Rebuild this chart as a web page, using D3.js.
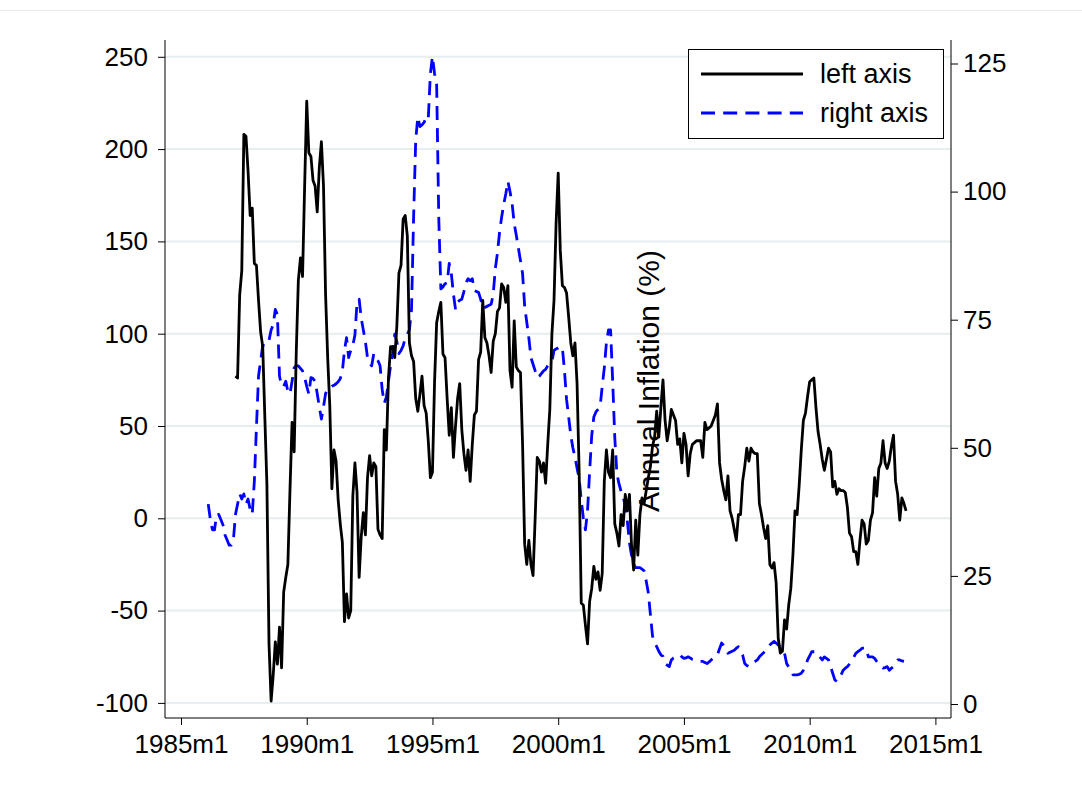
<!DOCTYPE html>
<html><head><meta charset="utf-8">
<script src="https://cdn.jsdelivr.net/npm/d3@7"></script>
<style>body{margin:0;background:#fff}svg{display:block}</style>
</head><body><svg id="c" width="1082" height="799"></svg>
<script>
// ---------- data ----------
const xTickLabels = ["1985m1","1990m1","1995m1","2000m1","2005m1","2010m1","2015m1"];
const leftTicks = [-100,-50,0,50,100,150,200,250];
const rightTicks = [0,25,50,75,100,125];
const seriesNames = ["left axis","right axis"];
const axisTitle = "Annual Inflation (%)";

// left-axis series, monthly from 1987m3
const leftStart = "1987m3";
const leftValues = [
77,76,121,134,208,207,188,164,168,138,
137,118,101,93,55,18,-68,-99,-85,-67,-79,-59,
-81,-40,-32,-25,15,52,36,90,129,141,131,180,
226,198,196,183,180,166,190,204,180,121,87,61,
16,37,31,10,-3,-13,-56,-41,-54,-50,12,30,
14,-32,-10,3,-9,22,34,23,30,28,-6,-9,
-11,48,37,76,93,93,87,104,133,137,162,164,
153,95,88,85,65,58,67,77,61,57,42,22,
25,74,106,112,117,89,87,65,45,60,33,50,
65,73,48,35,26,37,20,40,56,58,86,90,
118,98,95,88,79,96,100,112,114,127,125,117,
126,80,71,107,82,80,79,40,-14,-25,-12,-25,
-31,0,33,31,25,30,19,40,59,100,118,160,
187,145,126,125,122,109,95,88,95,73,25,-46,
-47,-58,-68,-45,-38,-26,-33,-29,-39,-30,20,37,
25,22,37,-3,-8,-15,2,-4,13,4,13,-15,
-28,-1,-20,2,11,8,15,22,28,39,44,58,
44,60,75,53,42,49,59,56,53,40,43,30,
46,40,23,35,40,41,42,42,42,33,52,48,
49,50,53,56,62,30,21,15,10,23,4,0,
-6,-12,2,2,20,28,38,31,38,36,35,35,
8,2,-5,-11,-4,-25,-27,-24,-35,-65,-73,-72,
-55,-60,-47,-38,-20,4,2,18,37,53,57,66,
74,75,76,60,47,40,32,26,32,38,36,17,
20,13,16,15,15,14,6,-8,-10,-18,-18,-25,
-12,-1,-3,-14,-12,-1,3,22,12,27,30,42,
30,27,31,39,45,20,13,-1,11,8,4
];

// right-axis series (annual inflation, %), monthly from 1986m2
const rightStart = "1986m2";
const rightValues = [
39,36,34,34,37,37,36,35,33,32,31,
31,32,37,39,41,40,41,39,40,38,37,43.5,
54,64,67,70,70,70,71,73,74,77,76,64,
62,62,63,61,60.5,63,65.6,66,66,65.5,65,63.7,
62,60.5,63.7,63.5,63,60.6,58,55.6,58,60.6,61.4,61.5,
62,62.2,62.5,62.9,63.5,64.9,69,71.5,67.6,69,70,72,
78.4,79,75.3,73,70.7,67.6,66.5,66,68.4,67.6,67,66,
61.4,58.7,59.9,63,66,68.4,72.2,70.7,68.4,69,69.9,71.4,
72.2,73,77,95,110,114.6,112.7,113,113.5,114.6,114.2,123,
126.4,123,120.8,95,81,81.4,82,82.2,86,84,80,77,
78.4,78.8,79,80.5,82.2,83,82.6,83,80.7,80.5,80.3,79,
77.2,77.4,77.6,77.8,78,80,85,88,92,95,97.5,99.6,
102,100,97.7,93.8,91.5,89,86.5,84,77.6,74.5,71.4,67.6,
66.3,65,63.7,64,64.5,65,65.3,66,66.4,66.8,69,69.3,
69.5,69.8,69.5,65,59.4,56,52.4,50,48.2,46,44,39.8,
36.3,34,37.7,45.4,52.4,56,57,57.5,58,62,65.6,70.5,
73,73,63,52,45,43,41.5,40.5,38.5,35.7,31.5,29,
27.3,26.6,26.6,26.6,26.3,26,24,21.7,17.5,13.3,12,11.2,
10.3,9.6,9.3,7.9,7.6,7.3,8.6,9,9.2,9.4,9.6,9.2,
8.9,9,9.2,9,8.7,8.6,8.4,8.3,8.3,8.3,8.1,7.9,
8.2,8.6,9,9.3,9.6,10.8,11.9,11.4,10.9,9.9,10.1,10.3,
10.5,10.9,11.2,10.4,9.6,7.9,7.5,7.3,7.6,8,8.3,8.6,
9.2,9.6,10,10.5,11,11.5,11.9,12.2,11.9,11.5,11.2,10.5,
9.9,7.9,7.2,6.6,5.7,5.7,5.7,5.8,6,6.6,7.3,8.6,
9.4,10.2,10.2,10.2,9.6,9.1,8.6,9.2,8.9,8.6,7.3,6,
4.7,4.4,5,5.7,6.6,7,7.3,7.8,8.3,9.1,9.9,10.2,
10.5,10.9,10.9,10.9,9.2,9.2,9.2,8.9,8.3,7.8,7.3,7,
7.1,7.3,6.6,7,7.3,8,8.6,8.6,8.4,8.3
];

// ---------- helpers ----------
function monthIndex(s){ const p = s.split("m").map(Number); return (p[0]-1985)*12 + (p[1]-1); }
function toPoints(start, vals){ const s0 = monthIndex(start); return vals.map((v,i)=>({m:s0+i, v:v})); }

const FONT = "'Liberation Sans', Arial, Helvetica, sans-serif";
const svg = d3.select("#c");
svg.append("rect").attr("width",1082).attr("height",799).attr("fill","#fff");

// faint outer border line at the top
svg.append("line").attr("x1",0).attr("x2",1082).attr("y1",10.5).attr("y2",10.5)
  .attr("stroke","#e6ecee").attr("stroke-width",1);

const plotL = 165, plotR = 951, plotT = 40, plotB = 718;

const x = d3.scaleLinear().domain([monthIndex("1985m1"), monthIndex("2015m1")]).range([181, 935.4]);
const yL = d3.scaleLinear().domain([-100, 250]).range([702.9, 56.8]);
const yR = d3.scaleLinear().domain([0, 125]).range([704, 63.5]);

// gridlines
svg.append("g").selectAll("line").data(leftTicks).join("line")
  .attr("x1", plotL).attr("x2", plotR)
  .attr("y1", d=>yL(d)).attr("y2", d=>yL(d))
  .attr("stroke","#e6eef0").attr("stroke-width",2);

// axes
function styleAxis(g){
  g.select(".domain").remove();
  g.selectAll(".tick line").attr("stroke","#000").attr("stroke-width",1);
  g.selectAll(".tick text").attr("font-family",FONT).attr("font-size",26).attr("fill","#000");
}
const fmt = d => String(d);
const gL = svg.append("g").attr("transform",`translate(${plotL},0)`)
  .call(d3.axisLeft(yL).tickValues(leftTicks).tickSize(7).tickPadding(10).tickFormat(fmt));
styleAxis(gL);
const gR = svg.append("g").attr("transform",`translate(${plotR},0)`)
  .call(d3.axisRight(yR).tickValues(rightTicks).tickSize(7).tickPadding(5).tickFormat(fmt));
styleAxis(gR);
const gB = svg.append("g").attr("transform",`translate(0,${plotB})`)
  .call(d3.axisBottom(x).tickValues(xTickLabels.map(monthIndex)).tickSize(7).tickPadding(10)
    .tickFormat((d,i)=>xTickLabels[i]));
styleAxis(gB);
gB.selectAll(".tick text").attr("dy","0.71em");

// axis lines
svg.append("line").attr("x1",plotL).attr("x2",plotL).attr("y1",plotT).attr("y2",plotB).attr("stroke","#000").attr("stroke-width",1);
svg.append("line").attr("x1",plotR).attr("x2",plotR).attr("y1",plotT).attr("y2",plotB).attr("stroke","#000").attr("stroke-width",1);
svg.append("line").attr("x1",plotL).attr("x2",plotR).attr("y1",plotB).attr("y2",plotB).attr("stroke","#000").attr("stroke-width",1);

// series
const leftPts = toPoints(leftStart, leftValues);
const rightPts = toPoints(rightStart, rightValues);
const DASH = "14,8.2";

svg.append("path").datum(rightPts)
  .attr("fill","none").attr("stroke","#0000ff").attr("stroke-width",2.8)
  .attr("stroke-dasharray",DASH).attr("stroke-linejoin","round")
  .attr("d", d3.line().x(d=>x(d.m)).y(d=>yR(d.v)));

svg.append("path").datum(leftPts)
  .attr("fill","none").attr("stroke","#000").attr("stroke-width",2.8)
  .attr("stroke-linejoin","round")
  .attr("d", d3.line().x(d=>x(d.m)).y(d=>yL(d.v)));

// rotated axis title (drawn inside the plot, as in the reference)
svg.append("text").attr("transform","translate(659,381) rotate(-90)")
  .attr("text-anchor","middle").attr("font-family",FONT).attr("font-size",30)
  .attr("fill","#000").text(axisTitle);

// legend
const lg = svg.append("g");
lg.append("rect").attr("x",688.5).attr("y",49.5).attr("width",255).attr("height",89)
  .attr("fill","#fff").attr("stroke","#000").attr("stroke-width",1);
const legendY = [74, 113];
const legendStyles = [{c:"#000",dash:null},{c:"#0000ff",dash:DASH}];
seriesNames.forEach((n,i)=>{
  const l = lg.append("line").attr("x1",701).attr("x2",803).attr("y1",legendY[i]).attr("y2",legendY[i])
    .attr("stroke",legendStyles[i].c).attr("stroke-width",2.8);
  if(legendStyles[i].dash) l.attr("stroke-dasharray",legendStyles[i].dash);
  lg.append("text").attr("x",820).attr("y",legendY[i]).attr("dy","0.35em")
    .attr("font-family",FONT).attr("font-size",27).attr("fill","#000").text(n);
});
</script></body></html>
